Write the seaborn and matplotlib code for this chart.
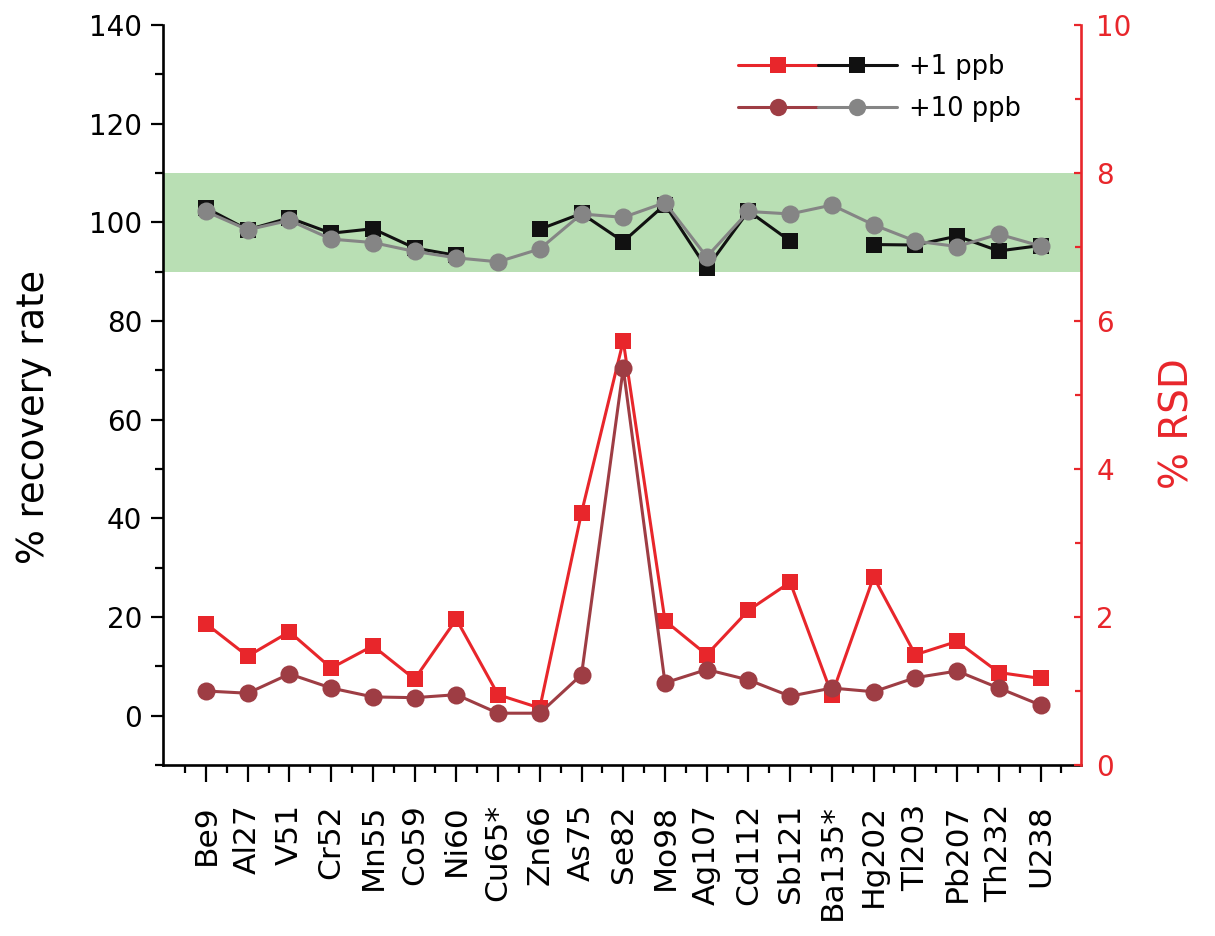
import numpy as np
import pandas as pd
import matplotlib
matplotlib.use("Agg")
import matplotlib.pyplot as plt
from matplotlib.lines import Line2D
from matplotlib.legend_handler import HandlerTuple
import seaborn as sns


# Spike recovery and RSD per isotope.

elements = ['Be9', 'Al27', 'V51', 'Cr52', 'Mn55', 'Co59', 'Ni60', 'Cu65*', 'Zn66',
            'As75', 'Se82', 'Mo98', 'Ag107', 'Cd112', 'Sb121', 'Ba135*', 'Hg202',
            'Tl203', 'Pb207', 'Th232', 'U238']

# % recovery (left axis)
rec_1ppb = [102.9, 98.5, 100.9, 97.8, 98.7, 94.8, 93.3, np.nan, 98.6,
            101.8, 96.1, 103.6, 90.7, 102.3, 96.2, np.nan, 95.5,
            95.4, 97.2, 94.2, 95.3]
rec_10ppb = [102.2, 98.5, 100.4, 96.6, 95.9, 94.1, 92.8, 92.0, 94.6,
             101.7, 101.0, 104.0, 93.0, 102.2, 101.7, 103.5, 99.5,
             96.2, 95.1, 97.6, 95.2]

# % RSD (right axis)
rsd_1ppb = [1.91, 1.47, 1.80, 1.31, 1.61, 1.16, 1.97, 0.95, 0.77,
            3.41, 5.73, 1.95, 1.49, 2.09, 2.47, 0.95, 2.54,
            1.49, 1.67, 1.25, 1.17]
rsd_10ppb = [1.00, 0.97, 1.23, 1.04, 0.92, 0.91, 0.95, 0.70, 0.70,
             1.22, 5.36, 1.11, 1.29, 1.15, 0.93, 1.04, 0.99,
             1.18, 1.27, 1.04, 0.81]

df = pd.DataFrame({'element': elements,
                   'pos': np.arange(len(elements)),
                   'rec_1ppb': rec_1ppb,
                   'rec_10ppb': rec_10ppb,
                   'rsd_1ppb': rsd_1ppb,
                   'rsd_10ppb': rsd_10ppb})
# break the +1 ppb recovery line where there is no value
df['seg'] = df['rec_1ppb'].isna().cumsum()

RED = '#e8262b'
BROWN = '#9e3d44'
BLACK = '#111111'
GRAY = '#858585'
GREEN = '#b9dfb4'

sns.set_style('ticks')
plt.rcParams['font.family'] = ['DejaVu Sans']
plt.rcParams['text.color'] = 'black'
plt.rcParams['axes.labelcolor'] = 'black'
plt.rcParams['xtick.color'] = 'black'
plt.rcParams['ytick.color'] = 'black'
plt.rcParams['axes.edgecolor'] = 'black'

fig = plt.figure(figsize=(12.15, 9.36), dpi=100)
ax = fig.add_axes([163 / 1215, 1 - 765 / 936, 918 / 1215, 740 / 936])
ax2 = ax.twinx()

# acceptance band 90-110 %
ax.axhspan(90, 110, color=GREEN, lw=0, zorder=0)

LW = 2.2
line_kw = dict(lw=LW, markeredgewidth=0)

sns.lineplot(data=df, x='pos', y='rec_1ppb', units='seg', estimator=None,
             color=BLACK, marker='s', markersize=12, ax=ax, **line_kw)
sns.lineplot(data=df, x='pos', y='rec_10ppb', color=GRAY, marker='o',
             markersize=13, ax=ax, **line_kw)

sns.lineplot(data=df, x='pos', y='rsd_1ppb', color=RED, marker='s',
             markersize=12, ax=ax2, **line_kw)
sns.lineplot(data=df, x='pos', y='rsd_10ppb', color=BROWN, marker='o',
             markersize=13, ax=ax2, **line_kw)

# axes ranges and ticks
ax.set_xlim(-1.03, 20.97)
ax.set_ylim(-10, 140)
ax2.set_ylim(0, 10)

ax.set_xticks(df['pos'])
ax.set_xticklabels(elements, rotation=90, fontsize=22.5)
ax.set_xticks(np.arange(-0.5, 21, 1.0), minor=True)
ax.set_yticks(np.arange(0, 141, 20))
ax.set_yticks(np.arange(-10, 140, 20), minor=True)
ax.tick_params(axis='y', which='major', length=9, width=1.6, labelsize=20, pad=6)
ax.tick_params(axis='y', which='minor', length=6, width=1.6)
ax.tick_params(axis='x', which='major', length=12, width=1.6, pad=16)
ax.tick_params(axis='x', which='minor', length=6, width=1.6)

ax2.set_yticks(np.arange(0, 11, 2))
ax2.set_yticks(np.arange(1, 10, 2), minor=True)
ax2.tick_params(axis='y', which='major', direction='in', length=5, width=1.6,
                colors=RED, labelsize=20, pad=11)
ax2.tick_params(axis='y', which='minor', direction='in', length=4, width=1.6,
                colors=RED)

for s in ['top', 'right']:
    ax.spines[s].set_visible(False)
for s in ['top', 'left', 'bottom']:
    ax2.spines[s].set_visible(False)
ax.spines['left'].set_linewidth(1.9)
ax.spines['bottom'].set_linewidth(1.9)
ax2.spines['right'].set_linewidth(1.9)
ax2.spines['right'].set_color(RED)

ax.set_xlabel('')
ax.set_ylabel('% recovery rate', fontsize=26.5, color='black')
ax.yaxis.set_label_coords(-0.121, 0.47)
ax2.set_ylabel('% RSD', fontsize=28, color=RED)
ax2.yaxis.set_label_coords(1.084, 0.461)

# legend: each entry shows the RSD line and the recovery line side by side
h_red = Line2D([], [], color=RED, marker='s', markersize=11, lw=LW, markeredgewidth=0)
h_blk = Line2D([], [], color=BLACK, marker='s', markersize=11, lw=LW, markeredgewidth=0)
h_brn = Line2D([], [], color=BROWN, marker='o', markersize=12.5, lw=LW, markeredgewidth=0)
h_gry = Line2D([], [], color=GRAY, marker='o', markersize=12.5, lw=LW, markeredgewidth=0)
fig.legend([(h_red, h_blk), (h_brn, h_gry)], ['+1 ppb', '+10 ppb'],
           handler_map={tuple: HandlerTuple(ndivide=None, pad=0.0)},
           loc='center left', bbox_to_anchor=(738 / 1215, 1 - 88 / 936),
           frameon=False, fontsize=18.5, handlelength=6.2, handletextpad=0.45,
           labelspacing=0.6, borderpad=0, borderaxespad=0, numpoints=1)

fig.savefig('out.png', dpi=100)
